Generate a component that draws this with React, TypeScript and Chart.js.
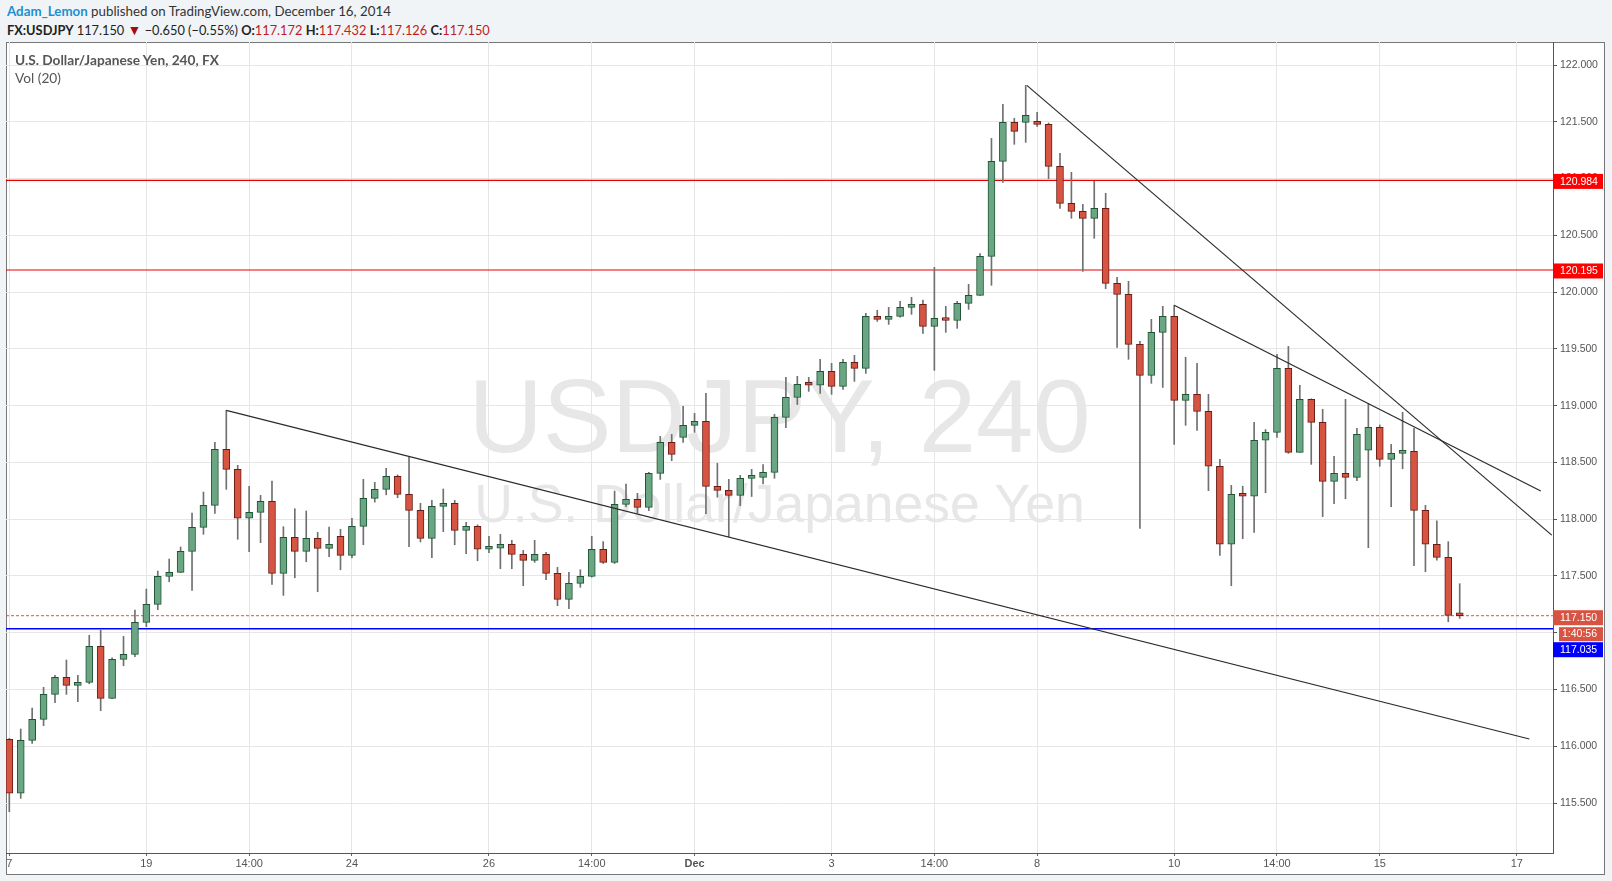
import React, { useEffect, useRef } from 'react';
import { Chart, registerables } from 'chart.js';

Chart.register(...registerables);

// ---- data (4h candles, index 0 = Nov 17) ----
const opens = [
  116.061, 115.586, 116.052, 116.237, 116.457, 116.607, 116.537, 116.563, 116.880, 116.422,
  116.766, 116.810, 117.091, 117.250, 117.497, 117.532, 117.717, 117.928, 118.122, 118.615,
  118.439, 118.008, 118.060, 118.157, 117.523, 117.840, 117.717, 117.831, 117.743, 117.849,
  117.682, 117.937, 118.184, 118.263, 118.377, 118.219, 118.078, 117.831, 118.113, 118.140,
  117.902, 117.937, 117.735, 117.744, 117.779, 117.690, 117.638, 117.690, 117.523, 117.294,
  117.435, 117.497, 117.735, 117.620, 118.131, 118.175, 118.104, 118.404, 118.677, 118.721,
  118.827, 118.862, 118.289, 118.254, 118.210, 118.360, 118.369, 118.413, 118.897, 119.073,
  119.188, 119.180, 119.302, 119.170, 119.382, 119.329, 119.787, 119.760, 119.787, 119.866,
  119.892, 119.699, 119.769, 119.750, 119.901, 119.972, 120.315, 121.152, 121.495, 121.495,
  121.495, 121.478, 121.108, 120.782, 120.711, 120.650, 120.738, 120.077, 119.980, 119.540,
  119.267, 119.646, 119.787, 119.047, 119.100, 118.950, 118.466, 117.779, 118.219, 118.202,
  118.695, 118.765, 119.329, 118.589, 119.056, 118.853, 118.333, 118.404, 118.369, 118.607,
  118.809, 118.527, 118.580, 118.598, 118.078, 117.779, 117.664, 117.172,
];
const highs = [
  116.070, 116.152, 116.337, 116.519, 116.625, 116.760, 116.625, 116.977, 117.024, 116.780,
  116.968, 117.200, 117.385, 117.543, 117.649, 117.755, 118.054, 118.239, 118.677, 118.959,
  118.474, 118.289, 118.210, 118.336, 117.934, 118.092, 118.072, 117.884, 117.931, 117.911,
  118.008, 118.351, 118.325, 118.448, 118.390, 118.545, 118.140, 118.166, 118.266, 118.166,
  117.972, 117.950, 117.849, 117.867, 117.814, 117.725, 117.814, 117.708, 117.576, 117.532,
  117.555, 117.849, 117.802, 118.248, 118.310, 118.228, 118.413, 118.730, 118.747, 118.994,
  118.932, 119.108, 118.492, 118.351, 118.386, 118.439, 118.480, 118.924, 119.249, 119.258,
  119.249, 119.408, 119.373, 119.408, 119.443, 119.813, 119.840, 119.866, 119.919, 119.954,
  119.930, 120.218, 119.875, 119.919, 120.069, 120.340, 121.354, 121.654, 121.531, 121.821,
  121.583, 121.490, 121.222, 121.055, 120.773, 120.976, 120.870, 120.130, 120.095, 119.567,
  119.760, 119.875, 119.884, 119.426, 119.373, 119.100, 118.527, 118.298, 118.290, 118.853,
  118.790, 119.452, 119.522, 119.179, 119.060, 118.968, 118.554, 119.056, 118.800, 119.020,
  118.830, 118.659, 118.941, 118.800, 118.122, 117.986, 117.802, 117.432,
];
const lows = [
  115.424, 115.541, 116.026, 116.181, 116.383, 116.457, 116.392, 116.550, 116.313, 116.420,
  116.709, 116.790, 117.053, 117.203, 117.449, 117.530, 117.373, 117.867, 118.052, 118.263,
  117.823, 117.713, 117.793, 117.426, 117.329, 117.484, 117.625, 117.361, 117.669, 117.555,
  117.660, 117.775, 118.150, 118.215, 118.189, 117.757, 117.800, 117.661, 117.890, 117.775,
  117.696, 117.634, 117.705, 117.564, 117.564, 117.414, 117.620, 117.467, 117.238, 117.211,
  117.400, 117.490, 117.610, 117.610, 118.110, 118.052, 118.075, 118.350, 118.515, 118.677,
  118.765, 118.048, 118.193, 117.846, 118.119, 118.200, 118.310, 118.360, 118.806, 119.010,
  119.126, 119.108, 119.100, 119.144, 119.214, 119.285, 119.742, 119.716, 119.780, 119.804,
  119.637, 119.311, 119.646, 119.681, 119.848, 119.970, 120.060, 120.967, 121.302, 121.319,
  121.460, 120.999, 120.738, 120.650, 120.183, 120.474, 120.030, 119.514, 119.408, 117.919,
  119.197, 119.161, 118.659, 118.827, 118.783, 118.251, 117.682, 117.414, 117.828, 117.884,
  118.233, 118.720, 118.580, 118.589, 118.483, 118.022, 118.136, 118.180, 118.340, 117.749,
  118.466, 118.110, 118.444, 117.590, 117.537, 117.640, 117.097, 117.126,
];
const closes = [
  115.586, 116.052, 116.237, 116.457, 116.607, 116.537, 116.563, 116.880, 116.422, 116.766,
  116.810, 117.091, 117.250, 117.497, 117.532, 117.717, 117.928, 118.122, 118.615, 118.439,
  118.008, 118.060, 118.157, 117.523, 117.840, 117.717, 117.831, 117.743, 117.779, 117.682,
  117.937, 118.184, 118.263, 118.377, 118.219, 118.078, 117.831, 118.113, 118.140, 117.902,
  117.937, 117.735, 117.744, 117.779, 117.690, 117.638, 117.690, 117.523, 117.294, 117.435,
  117.497, 117.735, 117.620, 118.131, 118.175, 118.104, 118.404, 118.677, 118.571, 118.827,
  118.862, 118.289, 118.254, 118.210, 118.360, 118.369, 118.413, 118.897, 119.073, 119.188,
  119.180, 119.302, 119.170, 119.382, 119.329, 119.787, 119.760, 119.787, 119.866, 119.892,
  119.699, 119.769, 119.750, 119.901, 119.972, 120.315, 121.152, 121.495, 121.416, 121.557,
  121.478, 121.108, 120.782, 120.711, 120.650, 120.738, 120.077, 119.980, 119.540, 119.267,
  119.646, 119.787, 119.047, 119.100, 118.950, 118.466, 117.779, 118.219, 118.202, 118.695,
  118.765, 119.329, 118.589, 119.056, 118.853, 118.333, 118.404, 118.369, 118.747, 118.809,
  118.527, 118.580, 118.598, 118.078, 117.779, 117.664, 117.153, 117.150,
];

const tickIndex = [0, 12, 21, 30, 42, 51, 60, 72, 81, 90, 102, 111, 120, 132];
const tickLabels = ['7', '19', '14:00', '24', '26', '14:00', 'Dec', '3', '14:00', '8', '10', '14:00', '15', '17'];
const priceTicks = [115.5, 116.0, 116.5, 117.0, 117.5, 118.0, 118.5, 119.0, 119.5, 120.0, 120.5, 121.0, 121.5, 122.0];

const resistanceHigh = 120.984;
const resistanceLow = 120.195;
const lastPrice = 117.150;
const supportBlue = 117.035;
const countdown = '1:40:56';

// trend lines: [candle index, price]
const trendLower = [[19, 118.959], [133.1, 116.064]];
const trendUpper = [[89.1, 121.821], [135.06, 117.86]];
const trendMid = [[102, 119.884], [134.1, 118.248]];

const X_MIN = -0.29;
const X_MAX = 135.17;
const Y_MIN = 115.06;
const Y_MAX = 122.203;

const GREEN = '#6ba684';
const GREEN_EDGE = '#1f5534';
const RED = '#d75442';
const RED_EDGE = '#6a1c14';
const AXIS_FONT = '"Liberation Sans", Arial, sans-serif';

const watermarkPlugin = {
  id: 'watermark',
  beforeDraw(chart: any) {
    const { ctx, chartArea } = chart;
    const cx = (chartArea.left + chartArea.right) / 2;
    const cy = (chartArea.top + chartArea.bottom) / 2;
    ctx.save();
    ctx.fillStyle = '#e7e7e7';
    ctx.textAlign = 'center';
    ctx.textBaseline = 'alphabetic';
    ctx.font = '103px ' + AXIS_FONT;
    ctx.fillText('USDJPY, 240', cx, cy + 4.5);
    ctx.font = '53.5px ' + AXIS_FONT;
    ctx.fillText('U.S. Dollar/Japanese Yen', cx, cy + 74);
    ctx.restore();
  },
};

const priceBoxPlugin = {
  id: 'priceBoxes',
  afterDraw(chart: any) {
    const { ctx, chartArea } = chart;
    const y = chart.scales.y;
    const left = chartArea.right;
    const w = 50;
    const h = 15;
    const box = (top: number, bg: string, text: string) => {
      ctx.fillStyle = bg;
      ctx.fillRect(left, top, w, h);
      ctx.fillStyle = '#ffffff';
      ctx.font = '10.5px ' + AXIS_FONT;
      ctx.textBaseline = 'middle';
      ctx.textAlign = 'left';
      ctx.fillText(text, left + 7, top + h / 2 + 0.5);
    };
    ctx.save();
    box(y.getPixelForValue(resistanceHigh) - 6.5, '#ff0000', resistanceHigh.toFixed(3));
    box(y.getPixelForValue(resistanceLow) - 6.5, '#ff0000', resistanceLow.toFixed(3));
    const lp = y.getPixelForValue(lastPrice);
    box(lp - 5.5, RED, lastPrice.toFixed(3));
    ctx.fillStyle = RED;
    ctx.fillRect(left + 6, lp + 11.5, w - 6, 14);
    ctx.fillStyle = '#ffffff';
    ctx.font = '10.5px ' + AXIS_FONT;
    ctx.textBaseline = 'middle';
    ctx.textAlign = 'left';
    ctx.fillText(countdown, left + 9, lp + 18.8);
    box(lp + 26.5, '#0000ff', supportBlue.toFixed(3));
    ctx.restore();
  },
};

function lineDataset(points: number[][], color: string, width: number, dash: number[] = [], order = 0) {
  return {
    type: 'line' as const,
    data: points.map((p) => ({ x: p[0], y: p[1] })),
    borderColor: color,
    borderWidth: width,
    borderDash: dash,
    pointRadius: 0,
    fill: false,
    tension: 0,
    order,
  };
}

export default function App() {
  const canvasRef = useRef<HTMLCanvasElement | null>(null);

  useEffect(() => {
    if (!canvasRef.current) return;
    const up = closes.map((c, i) => c >= opens[i]);
    const chart = new Chart(canvasRef.current, {
      type: 'bar',
      data: {
        datasets: [
          lineDataset(trendLower, '#2a2a2a', 1.2, [], 0),
          lineDataset(trendUpper, '#2a2a2a', 1.2, [], 0),
          lineDataset(trendMid, '#2a2a2a', 1.2, [], 0),
          {
            type: 'bar' as const,
            data: opens.map((o, i) => ({ x: i, y: [o, closes[i]] })),
            backgroundColor: up.map((u) => (u ? GREEN : RED)),
            borderColor: up.map((u) => (u ? GREEN_EDGE : RED_EDGE)),
            borderWidth: 1,
            borderSkipped: false,
            barThickness: 7,
            minBarLength: 3,
            grouped: false,
            order: 1,
          } as any,
          {
            type: 'bar' as const,
            data: lows.map((l, i) => ({ x: i, y: [l, highs[i]] })),
            backgroundColor: '#707070',
            borderWidth: 0,
            barThickness: 1,
            grouped: false,
            order: 2,
          } as any,
          lineDataset([[X_MIN, resistanceHigh], [X_MAX, resistanceHigh]], '#e80000', 1.2, [], 3),
          lineDataset([[X_MIN, resistanceLow], [X_MAX, resistanceLow]], '#e80000', 1.2, [], 3),
          lineDataset([[X_MIN, lastPrice], [X_MAX, lastPrice]], RED, 1, [3, 2], 3),
          lineDataset([[X_MIN, supportBlue], [X_MAX, supportBlue]], '#0000ff', 1.4, [], 3),
        ] as any,
      },
      options: {
        animation: false,
        responsive: false,
        events: [],
        layout: { padding: { left: 6, top: 42, right: 0, bottom: 0 } },
        plugins: { legend: { display: false }, tooltip: { enabled: false } },
        scales: {
          x: {
            type: 'linear',
            min: X_MIN,
            max: X_MAX,
            offset: false,
            afterBuildTicks: (scale: any) => {
              scale.ticks = tickIndex.map((v) => ({ value: v }));
            },
            afterFit: (scale: any) => {
              scale.height = 28;
            },
            grid: { color: '#e6e6e6', tickColor: '#666', tickLength: 3, drawOnChartArea: true, offset: false },
            border: { display: true, color: '#555', width: 1 },
            ticks: {
              autoSkip: false,
              maxRotation: 0,
              padding: 1,
              color: '#555',
              font: (ctx: any) => ({
                family: AXIS_FONT,
                size: 11,
                weight: ctx.tick && tickLabels[tickIndex.indexOf(ctx.tick.value)] === 'Dec' ? 'bold' : 'normal',
              }),
              callback: (value: any) => {
                const k = tickIndex.indexOf(Number(value));
                return k >= 0 ? tickLabels[k] : '';
              },
            },
          },
          y: {
            type: 'linear',
            position: 'right',
            min: Y_MIN,
            max: Y_MAX,
            afterBuildTicks: (scale: any) => {
              scale.ticks = priceTicks.map((v) => ({ value: v }));
            },
            afterFit: (scale: any) => {
              scale.width = 59;
            },
            grid: { color: '#e6e6e6', tickColor: '#555', tickLength: 4 },
            border: { display: true, color: '#555', width: 1 },
            ticks: {
              padding: 3,
              color: '#555',
              font: { family: AXIS_FONT, size: 10.5 },
              callback: (value: any) => Number(value).toFixed(3),
            },
          },
        },
      } as any,
      plugins: [watermarkPlugin, priceBoxPlugin],
    });
    return () => chart.destroy();
  }, []);

  const red = { color: '#c11d1d' };
  return (
    <div
      style={{
        position: 'fixed',
        left: 0,
        top: 0,
        width: 1612,
        height: 881,
        background: '#f1f4f7',
        overflow: 'hidden',
        fontFamily: 'Lato, "Open Sans", sans-serif',
        color: '#222',
      }}
    >
      <div style={{ position: 'absolute', left: 7, top: 1, fontSize: 13.3, lineHeight: '20px', whiteSpace: 'nowrap', color: '#333' }}>
        <span style={{ color: '#1d8fd0', fontWeight: 700 }}>Adam_Lemon</span> published on TradingView.com, December 16, 2014
      </div>
      <div style={{ position: 'absolute', left: 7, top: 21, fontSize: 12.8, lineHeight: '18px', whiteSpace: 'nowrap', color: '#222' }}>
        <b>FX:USDJPY</b> 117.150 <span style={{ color: '#a00d0d', fontSize: 14 }}>▼</span> −0.650 (−0.55%) <b>O:</b>
        <span style={red}>117.172</span> <b>H:</b>
        <span style={red}>117.432</span> <b>L:</b>
        <span style={red}>117.126</span> <b>C:</b>
        <span style={red}>117.150</span>
      </div>
      <div
        style={{
          position: 'absolute',
          left: 6,
          top: 42,
          width: 1599,
          height: 833,
          background: '#ffffff',
          border: '1px solid #777',
          boxSizing: 'border-box',
        }}
      />
      <canvas ref={canvasRef} width={1612} height={881} style={{ position: 'absolute', left: 0, top: 0, width: 1612, height: 881 }} />
      <div style={{ position: 'absolute', left: 15, top: 51, fontSize: 13.7, lineHeight: '18px', color: '#555', whiteSpace: 'nowrap' }}>
        <div style={{ fontWeight: 700 }}>U.S. Dollar/Japanese Yen, 240, FX</div>
        <div>Vol (20)</div>
      </div>
    </div>
  );
}
